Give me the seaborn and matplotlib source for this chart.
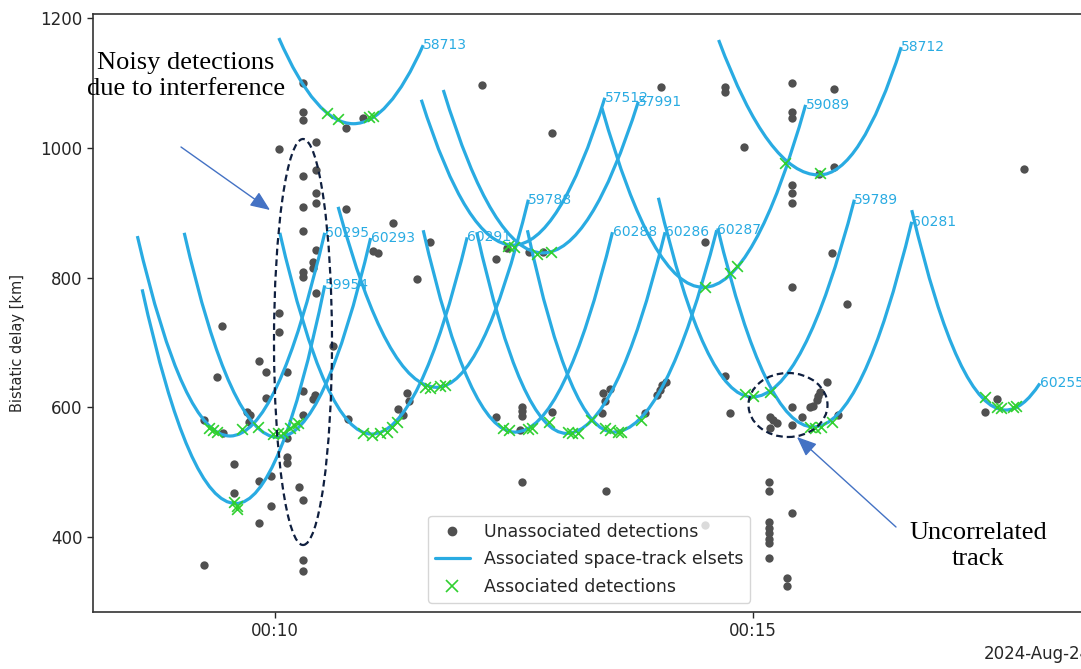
import numpy as np
import pandas as pd
import seaborn as sns
import matplotlib

matplotlib.use("Agg")
import matplotlib.pyplot as plt
import matplotlib.dates as mdates
from matplotlib.path import Path
from matplotlib.patches import PathPatch, Ellipse
from matplotlib.lines import Line2D

sns.set_style("ticks")
plt.rcParams["font.family"] = ["DejaVu Sans"]

DAY = pd.Timestamp("2024-08-24")

# space-track elsets: start / minimum / end of each bistatic delay curve (minutes after 00:00, km)
track_ids = ["58713", "58712", "57512", "57991", "59089", "59788", "60295", "59954",
             "60293", "60291", "60288", "60286", "60287", "60281", "59789", "60255"]
track_t_start = [10.04, 14.64, 11.53, 11.76, 13.42, 10.66, 8.56, 8.61,
                 9.05, 10.05, 11.55, 12.11, 12.64, 14.63, 14.01, 16.66]
track_d_start = [1169, 1166, 1074, 1089, 1061, 909, 864, 782,
                 869, 869, 873, 870, 873, 876, 923, 904]
track_t_min = [10.82, 15.69, 12.49, 12.80, 14.48, 11.69, 9.53, 9.59,
               10.03, 11.01, 12.51, 13.05, 13.54, 15.63, 14.99, 17.64]
track_d_min = [1037, 958, 850, 838, 785, 631, 556, 452,
               554, 559, 562, 560, 562, 570, 616, 596]
track_t_end = [11.55, 16.55, 13.45, 13.80, 15.55, 12.65, 10.52, 10.52,
               11.00, 12.01, 13.53, 14.08, 14.62, 16.66, 16.06, 18.00]
track_d_end = [1158, 1155, 1077, 1071, 1066, 920, 869, 788,
               861, 862, 870, 870, 873, 886, 920, 637]

# unassociated detections
unassoc_t = [
    10.29, 10.29, 10.29, 10.74, 10.92, 10.04, 10.43, 10.29, 10.43, 10.43,
    10.43, 10.29, 10.74, 11.23, 10.29, 11.62, 11.03, 11.08, 10.43, 10.40,
    10.40, 10.29, 10.29, 11.49, 10.43, 10.04, 10.04, 9.45, 10.61, 9.83,
    9.91, 10.13, 9.39, 10.29, 10.42, 10.40, 9.91, 9.71, 9.74, 9.26,
    9.73, 10.29, 9.46, 10.13, 10.12, 10.13, 9.57, 9.96, 9.83, 10.25,
    9.57, 10.29, 9.96, 9.83, 9.26, 10.29, 10.29, 10.76, 11.38, 11.40,
    11.29, 11.34,
    12.17, 12.90, 14.04, 12.31, 12.43, 12.66, 12.80, 12.58, 12.58, 12.58,
    12.31, 12.56, 12.90, 13.43, 13.50, 13.45, 13.42, 14.03, 14.05, 14.09,
    14.00, 13.87, 12.58, 13.46, 14.50, 14.50,
    14.71, 14.71, 15.41, 15.41, 15.41, 15.85, 14.91, 15.85, 15.69, 15.41,
    15.41, 15.41, 15.83, 15.41, 15.98, 14.71, 14.76, 15.77, 15.68, 15.70,
    15.67, 15.60, 15.63, 15.41, 15.18, 15.21, 15.25, 15.51, 15.18, 15.41,
    15.89, 15.17, 15.17, 15.41, 15.17, 15.17, 15.17, 15.17, 15.17, 15.17,
    15.36, 15.36, 17.83, 17.43, 17.55,
]
unassoc_d = [
    1100, 1055, 1043, 1030, 1046, 998, 1009, 957, 966, 930,
    915, 909, 906, 884, 872, 855, 841, 838, 842, 824,
    815, 809, 801, 798, 776, 745, 716, 725, 694, 671,
    654, 654, 647, 625, 619, 613, 614, 593, 588, 580,
    577, 588, 560, 553, 523, 514, 513, 494, 486, 477,
    468, 457, 448, 422, 357, 365, 348, 583, 622, 610,
    597, 588,
    1097, 1023, 1094, 829, 845, 839, 839, 600, 594, 587,
    585, 565, 593, 622, 628, 610, 591, 627, 634, 639,
    619, 591, 485, 472, 855, 419,
    1094, 1086, 1100, 1055, 1046, 1091, 1001, 970, 960, 943,
    930, 915, 838, 785, 759, 649, 591, 639, 617, 624,
    611, 600, 603, 600, 585, 580, 576, 585, 568, 573,
    588, 485, 472, 437, 423, 414, 406, 398, 391, 368,
    338, 325, 967, 593, 613,
]

# detections associated with an elset
assoc_t = [
    10.54, 10.66, 10.98, 11.03, 15.33, 15.70, 14.50, 14.76, 14.83,
    12.44, 12.50, 12.74, 12.89, 11.57, 11.62, 11.73, 11.78,
    14.92, 15.00, 15.18, 17.43, 17.55, 17.59, 17.72, 17.75,
    15.60, 15.65, 15.71, 15.83,
    9.31, 9.35, 9.39, 9.65, 9.82, 9.98, 10.03, 10.08, 10.16, 10.20, 10.24,
    9.57, 9.60, 9.60,
    10.92, 11.01, 11.10, 11.17, 11.22, 11.28,
    12.38, 12.45, 12.65, 12.69, 12.87,
    13.06, 13.11, 13.17, 13.31,
    13.45, 13.50, 13.59, 13.62, 13.83,
]
assoc_d = [
    1054, 1044, 1047, 1049, 977, 961, 785, 807, 818,
    849, 847, 836, 839, 631, 630, 633, 634,
    620, 617, 624, 616, 600, 599, 600, 602,
    570, 568, 570, 577,
    568, 565, 562, 567, 570, 559, 560, 560, 568, 573, 576,
    454, 449, 443,
    560, 557, 560, 562, 570, 577,
    568, 565, 567, 568, 577,
    562, 560, 560, 580,
    568, 565, 562, 562, 580,
]

BLUE = "#29abe2"
GREY = "#505050"
GREEN = "#30d030"
NAVY = "#0f1f3f"
ARROW = "#4472c4"
W, H = 1081, 669


def to_time(minutes):
    return DAY + pd.to_timedelta(np.asarray(minutes, dtype=float), unit="m")


def fig_xy(px, py):
    return px / W, 1 - py / H


fig = plt.figure(figsize=(W / 100, H / 100), dpi=100)
ax = fig.add_axes([93 / W, 1 - 612 / H, 998 / W, 598 / H])

unassoc = pd.DataFrame({"time": to_time(unassoc_t), "delay": unassoc_d})
assoc = pd.DataFrame({"time": to_time(assoc_t), "delay": assoc_d})

sns.scatterplot(data=unassoc, x="time", y="delay", ax=ax, color=GREY,
                s=36, linewidth=0, zorder=2)

for i, tid in enumerate(track_ids):
    xs = mdates.date2num(to_time([track_t_start[i], track_t_min[i], track_t_end[i]]))
    dv = track_d_min[i]
    verts = [(xs[0], track_d_start[i]), ((xs[0] + xs[1]) / 2, dv), (xs[1], dv),
             ((xs[1] + xs[2]) / 2, dv), (xs[2], track_d_end[i])]
    codes = [Path.MOVETO, Path.CURVE3, Path.CURVE3, Path.CURVE3, Path.CURVE3]
    ax.add_patch(PathPatch(Path(verts, codes), fill=False, edgecolor=BLUE,
                           lw=2.3, zorder=3))
    ax.text(xs[2], track_d_end[i], tid, color=BLUE, fontsize=10,
            ha="left", va="center", zorder=5, clip_on=False)

sns.scatterplot(data=assoc, x="time", y="delay", ax=ax, color=GREEN,
                marker="x", s=60, linewidth=1.2, zorder=4)

ax.set_xlim(to_time([8.096, 18.535]))
ax.set_ylim(285, 1206)
ax.set_yticks([400, 600, 800, 1000, 1200])
locator = mdates.MinuteLocator(byminute=range(0, 60, 5))
ax.xaxis.set_major_locator(locator)
ax.xaxis.set_major_formatter(mdates.ConciseDateFormatter(locator))
ax.tick_params(labelsize=12, length=4, width=1)
ax.xaxis.get_offset_text().set_fontsize(12)
ax.set_xlabel("")
ax.set_ylabel("Bistatic delay [km]", fontsize=10.5)
ax.yaxis.set_label_coords(-0.068, 0.45)
for sp in ax.spines.values():
    sp.set_linewidth(1.2)
    sp.set_color("#333333")

handles = [
    Line2D([], [], marker="o", ls="", color=GREY, markersize=6),
    Line2D([], [], color=BLUE, lw=2.3),
    Line2D([], [], marker="x", ls="", color=GREEN, markersize=9, mew=1.2),
]
labels = ["Unassociated detections", "Associated space-track elsets", "Associated detections"]
ax.legend(handles, labels, loc="lower left", bbox_to_anchor=(0.3357, 0.0151),
          borderaxespad=0, fontsize=12.5, frameon=True, framealpha=0.8,
          edgecolor="0.8", fancybox=True, labelspacing=0.55)

# overlay annotations
serif = dict(family="Liberation Serif", fontsize=19, color="black",
             ha="center", va="center", linespacing=1.2)
fig.text(*fig_xy(186, 76), "Noisy detections\ndue to interference", **serif)
fig.text(*fig_xy(978, 546), "Uncorrelated\ntrack", **serif)

arrow = dict(arrowstyle="-|>,head_length=0.6,head_width=0.25", color=ARROW,
             lw=1.0, mutation_scale=20, shrinkA=0, shrinkB=0)
ax.annotate("", xy=fig_xy(270, 210), xytext=fig_xy(181, 147),
            xycoords="figure fraction", textcoords="figure fraction", arrowprops=arrow)
ax.annotate("", xy=fig_xy(797, 437), xytext=fig_xy(896, 527),
            xycoords="figure fraction", textcoords="figure fraction", arrowprops=arrow)

for cx, cy, ew, eh in [(303, 342, 58, 406), (788, 405, 79, 64)]:
    fig.add_artist(Ellipse(fig_xy(cx, cy), ew / W, eh / H, transform=fig.transFigure,
                           fill=False, edgecolor=NAVY, lw=1.6,
                           linestyle=(0, (3.0, 1.8)), zorder=6))

fig.savefig("out.png", dpi=100)
